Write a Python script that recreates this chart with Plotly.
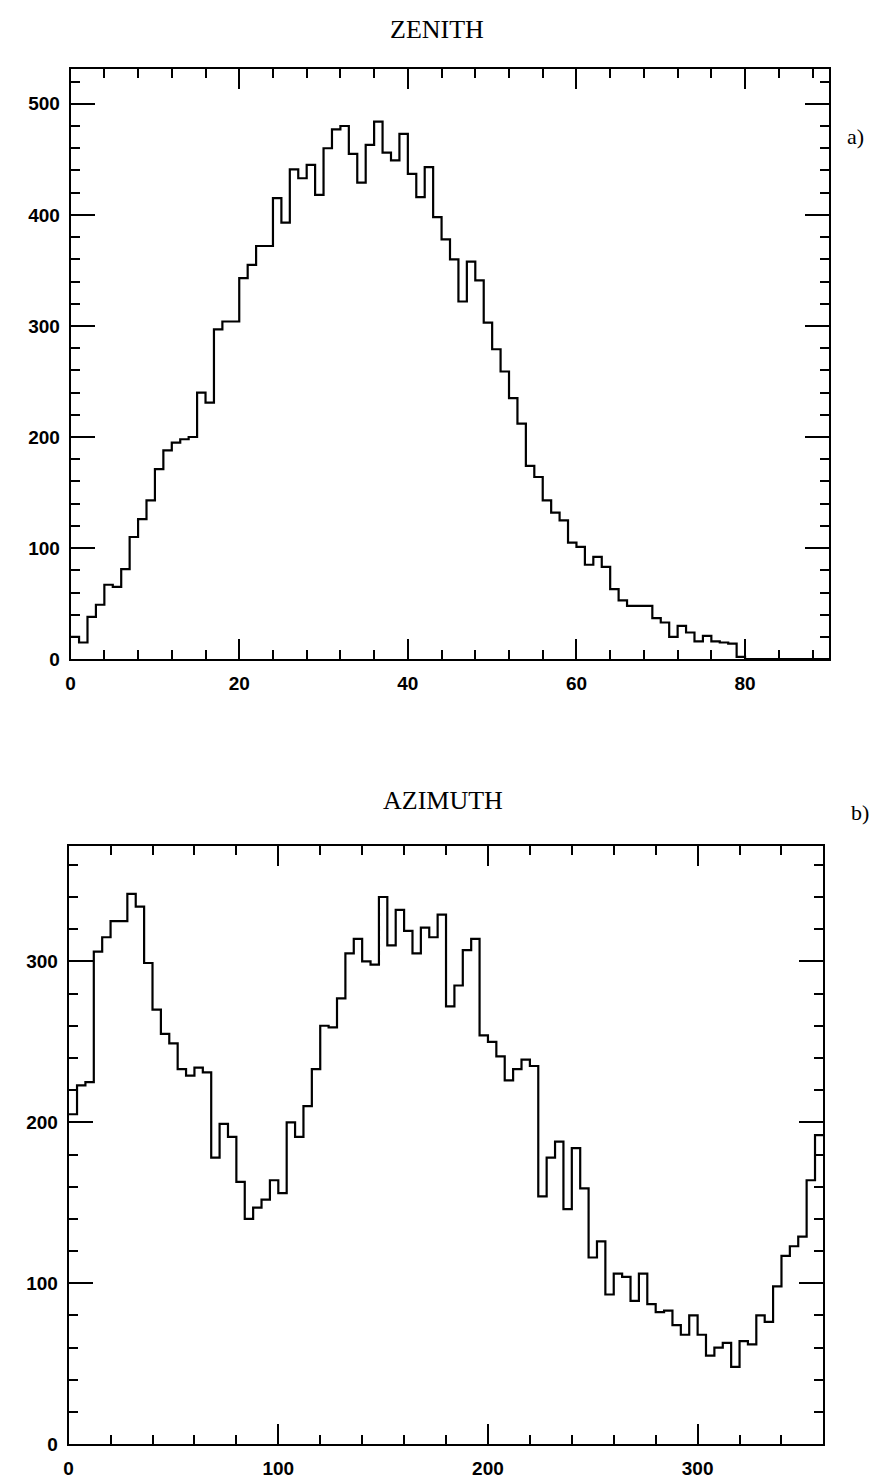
import plotly.graph_objects as go

# ---------------- data ----------------
ZENITH_BIN_WIDTH = 1      # degrees
ZENITH_COUNTS = [
    20, 15, 38, 49, 67, 65, 81, 110, 126, 143,
    171, 188, 195, 198, 200, 240, 231, 297, 304, 304,
    343, 355, 372, 372, 415, 393, 441, 433, 445, 418,
    460, 477, 480, 455, 429, 463, 484, 456, 449, 473,
    437, 416, 443, 398, 378, 360, 322, 358, 341, 303,
    279, 259, 235, 212, 174, 164, 143, 132, 125, 105,
    101, 85, 92, 83, 63, 53, 48, 48, 48, 37,
    33, 20, 30, 24, 16, 21, 16, 15, 14, 2,
    0, 0, 0, 0, 0, 0, 0, 0, 0, 0,
]
AZIMUTH_BIN_WIDTH = 4     # degrees
AZIMUTH_COUNTS = [
    205, 223, 225, 306, 315, 325, 325, 342, 334, 299,
    270, 255, 249, 233, 229, 234, 231, 178, 199, 191,
    163, 140, 147, 152, 164, 156, 200, 191, 210, 233,
    260, 259, 277, 305, 314, 300, 298, 340, 310, 332,
    319, 305, 321, 315, 329, 272, 285, 307, 314, 254,
    250, 241, 226, 233, 239, 235, 154, 178, 188, 146,
    184, 159, 116, 126, 93, 106, 104, 89, 106, 87,
    82, 83, 74, 68, 80, 68, 55, 60, 63, 48,
    64, 62, 80, 76, 98, 117, 123, 129, 164, 192,
]
ZENITH_XTICKS = [0, 20, 40, 60, 80]
ZENITH_YTICKS = [0, 100, 200, 300, 400, 500]
AZIMUTH_XTICKS = [0, 100, 200, 300]
AZIMUTH_YTICKS = [0, 100, 200, 300]
TITLES = ["ZENITH", "AZIMUTH"]
PANEL_TAGS = ["a)", "b)"]

# ---------------- helpers ----------------
W, H = 895, 1479


def step_xy(counts, width):
    edges = [i * width for i in range(len(counts) + 1)]
    ys = list(counts) + [counts[-1]]
    return edges, ys


def px_x(p):
    return p / W


def px_y(p):
    return 1 - p / H


fig = go.Figure()

zx, zy = step_xy(ZENITH_COUNTS, ZENITH_BIN_WIDTH)
ax, ay = step_xy(AZIMUTH_COUNTS, AZIMUTH_BIN_WIDTH)

line = dict(color="black", width=2.2, shape="hv")
fig.add_trace(go.Scatter(x=zx, y=zy, mode="lines", line=line,
                         xaxis="x", yaxis="y", showlegend=False, hoverinfo="skip"))
fig.add_trace(go.Scatter(x=ax, y=ay, mode="lines", line=line,
                         xaxis="x2", yaxis="y2", showlegend=False, hoverinfo="skip"))

tickfont = dict(family="Liberation Sans", size=19, color="black", weight="bold")


def axis(domain, rng, tickvals, dtick_minor, ticklen, anchor, standoff):
    return dict(
        domain=domain, range=rng, anchor=anchor,
        showline=True, linecolor="black", linewidth=2, mirror="allticks",
        ticks="inside", ticklen=ticklen, tickwidth=2, tickcolor="black",
        tickmode="array", tickvals=tickvals, ticktext=[str(v) for v in tickvals],
        minor=dict(ticks="inside", ticklen=9, tickwidth=1.6, tickcolor="black",
                   dtick=dtick_minor, tick0=0, showgrid=False),
        showgrid=False, zeroline=False, tickfont=tickfont,
        ticklabelstandoff=standoff,
    )


fig.update_layout(
    width=W, height=H,
    margin=dict(l=0, r=0, t=0, b=0),
    paper_bgcolor="white", plot_bgcolor="white",
    xaxis=axis([px_x(66), px_x(829)], [0, 90], ZENITH_XTICKS, 4, 20, "y", 6),
    yaxis=axis([px_y(665), px_y(70)], [0, 531], ZENITH_YTICKS, 20, 24, "x", 5),
    xaxis2=axis([px_x(64), px_x(823)], [0, 360], AZIMUTH_XTICKS, 20, 20, "y2", 6),
    yaxis2=axis([px_y(1457), px_y(853)], [0, 372], AZIMUTH_YTICKS, 20, 24, "x2", 5),
)

title_font = dict(family="Liberation Serif", size=26, color="black")
tag_font = dict(family="Liberation Serif", size=22, color="black")
fig.add_annotation(text=TITLES[0], x=px_x(434), y=px_y(30), xref="paper", yref="paper",
                   showarrow=False, font=title_font, xanchor="center", yanchor="middle")
fig.add_annotation(text=TITLES[1], x=px_x(440), y=px_y(808), xref="paper", yref="paper",
                   showarrow=False, font=title_font, xanchor="center", yanchor="middle")
fig.add_annotation(text=PANEL_TAGS[0], x=px_x(855), y=px_y(138), xref="paper", yref="paper",
                   showarrow=False, font=tag_font, xanchor="center", yanchor="middle")
fig.add_annotation(text=PANEL_TAGS[1], x=px_x(860), y=px_y(820), xref="paper", yref="paper",
                   showarrow=False, font=tag_font, xanchor="center", yanchor="middle")

fig.write_html("out.html")
